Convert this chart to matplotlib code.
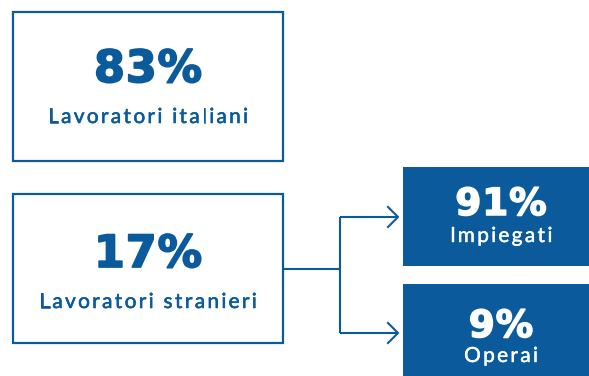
import matplotlib.pyplot as plt
import matplotlib.patheffects as pe
from matplotlib.patches import Rectangle

# share of workers
main_values = [83, 17]
main_labels = ['Lavoratori italiani', 'Lavoratori stranieri']

# breakdown of foreign workers
sub_values = [91, 9]
sub_labels = ['Impiegati', 'Operai']

blu = '#0b5b9c'
W, H = 589, 376

fig = plt.figure(figsize=(W / 100, H / 100), dpi=100)
ax = fig.add_axes([0, 0, 1, 1])
ax.set_xlim(0, W)
ax.set_ylim(H, 0)
ax.axis('off')
rend = fig.canvas.get_renderer()


def spaced(xc, ybase, s, track, heavy=0.0, **kw):
    # draw s centred on xc with extra space (px) between letters
    def width(txt):
        t = ax.text(0, 0, txt + '|', **kw)
        w = t.get_window_extent(rend).width
        t.remove()
        return w
    base = width('')
    offs = [width(s[:i]) - base for i in range(len(s) + 1)]
    total = offs[-1] + track * (len(s) - 1)
    x0 = xc - total / 2
    fx = [pe.withStroke(linewidth=heavy, foreground=kw['color'])] if heavy else None
    for i, c in enumerate(s):
        if c != ' ':
            ax.text(x0 + offs[i] + i * track, ybase, c, ha='left', va='baseline',
                    path_effects=fx, **kw)


num_kw = dict(family='DejaVu Sans', fontweight='bold')
lab_kw = dict(family='Lato')

# outlined boxes on the left
left_tops = [12, 194]
num_base = [82, 267]
lab_base = [123, 308]
for top, nb, lb, val, lab in zip(left_tops, num_base, lab_base, main_values, main_labels):
    ax.add_patch(Rectangle((13, top), 270, 149, fill=False, edgecolor=blu, lw=1.6))
    spaced(148, nb, f'{val}%', 0.8, heavy=1.3, color=blu, fontsize=32, **num_kw)
    spaced(148, lb, lab, 2.3, heavy=0.4, color=blu, fontsize=15, **lab_kw)

# filled boxes on the right
right_tops = [167, 284]
sub_num_base = [215, 337]
sub_lab_base = [242, 362]
for top, nb, lb, val, lab in zip(right_tops, sub_num_base, sub_lab_base, sub_values, sub_labels):
    ax.add_patch(Rectangle((403, top), 200, 99, facecolor=blu, edgecolor='none'))
    spaced(501, nb, f'{val}%', 0.8, heavy=1.1, color='white', fontsize=27, **num_kw)
    spaced(501, lb, lab, 2.3, heavy=0.3, color='white', fontsize=15, **lab_kw)

# connector from the second box to the two breakdown boxes
ax.plot([283, 340], [269, 269], color=blu, lw=1.5, solid_capstyle='butt')
ax.plot([340, 340], [217, 333], color=blu, lw=1.5, solid_capstyle='butt')
for y in [217, 333]:
    ax.plot([340, 398], [y, y], color=blu, lw=1.5, solid_capstyle='butt')
    ax.plot([388, 398, 388], [y - 10, y, y + 10], color=blu, lw=1.5)

fig.savefig('out.png', dpi=100)
